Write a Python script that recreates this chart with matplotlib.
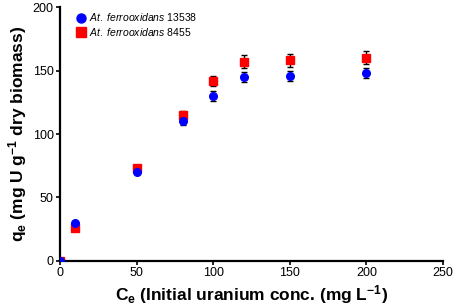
import matplotlib
matplotlib.use('Agg')
import matplotlib.pyplot as plt
from matplotlib.lines import Line2D

plt.rcParams['font.family'] = ['Liberation Sans', 'DejaVu Sans']
plt.rcParams['mathtext.fontset'] = 'custom'
plt.rcParams['mathtext.rm'] = 'Liberation Sans'
plt.rcParams['mathtext.it'] = 'Liberation Sans:italic'
plt.rcParams['mathtext.bf'] = 'Liberation Sans:bold'

# Dados
ce = [0, 10, 50, 80, 100, 120, 150, 200]
q_13538 = [0, 30, 70, 110, 130, 145, 146, 148]
err_13538 = [0, 1, 1, 3, 4, 4, 4, 4]
q_8455 = [0, 26, 73, 115, 142, 157, 158, 160]
err_8455 = [0, 1, 1, 3, 4, 5, 5, 5]

fig = plt.figure(figsize=(4.54, 3.07), dpi=100)
ax = fig.add_axes([0.132, 0.150, 0.844, 0.827])

ax.errorbar(ce, q_13538, yerr=err_13538, fmt='o', color='#0000ff', ecolor='black',
            elinewidth=1, capsize=2.5, capthick=1, markersize=5.5, zorder=3)
ax.errorbar(ce, q_8455, yerr=err_8455, fmt='s', color='#ff0000', ecolor='black',
            elinewidth=1, capsize=2.5, capthick=1, markersize=5.5, zorder=2)

ax.set_xlim(0, 250)
ax.set_ylim(0, 200)
ax.set_xticks([0, 50, 100, 150, 200, 250])
ax.set_yticks([0, 50, 100, 150, 200])
ax.spines['top'].set_visible(False)
ax.spines['right'].set_visible(False)
ax.spines['left'].set_linewidth(1.6)
ax.spines['bottom'].set_linewidth(1.6)
ax.tick_params(width=1.2, length=3, labelsize=9, pad=1.5)

ax.set_xlabel(r'C$_\mathbf{e}$ (Initial uranium conc. (mg L$^\mathbf{-1}$)',
              fontsize=12.5, fontweight='bold', labelpad=3)
ax.set_ylabel(r'q$_\mathbf{e}$ (mg U g$^\mathbf{-1}$ dry biomass)',
              fontsize=12.5, fontweight='bold', labelpad=3)

# Legenda só com os marcadores
handles = [
    Line2D([], [], marker='o', linestyle='none', color='#0000ff', markersize=6.5),
    Line2D([], [], marker='s', linestyle='none', color='#ff0000', markersize=6.5),
]
labels = [r'$\mathit{At.\ ferrooxidans}$ 13538', r'$\mathit{At.\ ferrooxidans}$ 8455']
ax.legend(handles, labels, loc='upper left', frameon=False, fontsize=7.5,
          handletextpad=0.3, borderaxespad=0.0, labelspacing=0.25, handlelength=1.0,
          bbox_to_anchor=(0.03, 1.0))

fig.savefig('out.png', dpi=100)
